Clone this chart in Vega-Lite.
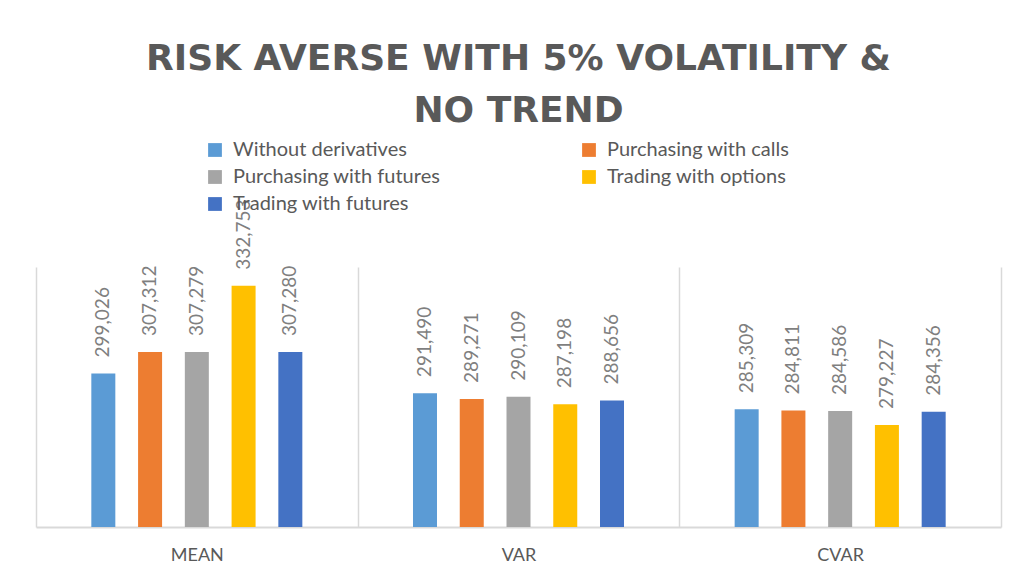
{
  "$schema": "https://vega.github.io/schema/vega-lite/v6.json",
  "width": 965,
  "height": 260,
  "autosize": {"type": "none"},
  "padding": {"left": 36, "top": 267, "right": 15, "bottom": 55},
  "background": "white",
  "title": {
    "text": ["RISK AVERSE WITH 5% VOLATILITY &", "NO TREND"],
    "font": "DejaVu Sans",
    "fontSize": 36,
    "fontWeight": "bold",
    "color": "#595959",
    "lineHeight": 52,
    "anchor": "middle",
    "frame": "group",
    "offset": 10
  },
  "data": {
    "values": [
      {"measure": "MEAN", "strategy": "Without derivatives", "value": 299026},
      {"measure": "MEAN", "strategy": "Purchasing with calls", "value": 307312},
      {"measure": "MEAN", "strategy": "Purchasing with futures", "value": 307279},
      {"measure": "MEAN", "strategy": "Trading with options", "value": 332753},
      {"measure": "MEAN", "strategy": "Trading with futures", "value": 307280},
      {"measure": "VAR", "strategy": "Without derivatives", "value": 291490},
      {"measure": "VAR", "strategy": "Purchasing with calls", "value": 289271},
      {"measure": "VAR", "strategy": "Purchasing with futures", "value": 290109},
      {"measure": "VAR", "strategy": "Trading with options", "value": 287198},
      {"measure": "VAR", "strategy": "Trading with futures", "value": 288656},
      {"measure": "CVAR", "strategy": "Without derivatives", "value": 285309},
      {"measure": "CVAR", "strategy": "Purchasing with calls", "value": 284811},
      {"measure": "CVAR", "strategy": "Purchasing with futures", "value": 284586},
      {"measure": "CVAR", "strategy": "Trading with options", "value": 279227},
      {"measure": "CVAR", "strategy": "Trading with futures", "value": 284356}
    ]
  },
  "encoding": {
    "x": {
      "field": "measure",
      "type": "nominal",
      "sort": ["MEAN", "VAR", "CVAR"],
      "scale": {"paddingInner": 0, "paddingOuter": 0},
      "axis": {
        "title": null,
        "labelAngle": 0,
        "labelFont": "Lato",
        "labelFontSize": 18,
        "labelColor": "#595959",
        "labelPadding": 19,
        "ticks": false,
        "tickBand": "extent",
        "grid": true,
        "gridColor": "#d9d9d9",
        "gridWidth": 1.5,
        "domainColor": "#d9d9d9",
        "domainWidth": 2
      }
    },
    "xOffset": {
      "field": "strategy",
      "type": "nominal",
      "sort": ["Without derivatives", "Purchasing with calls", "Purchasing with futures", "Trading with options", "Trading with futures"],
      "scale": {"paddingInner": 0.12, "paddingOuter": 1}
    },
    "y": {
      "field": "value",
      "type": "quantitative",
      "scale": {"domain": [240000, 340000], "zero": false, "nice": false},
      "axis": null
    }
  },
  "layer": [
    {
      "mark": {"type": "bar", "clip": false, "width": 24},
      "encoding": {
        "y2": {"datum": 240000},
        "color": {
          "field": "strategy",
          "type": "nominal",
          "scale": {
            "domain": ["Without derivatives", "Purchasing with futures", "Trading with futures", "Purchasing with calls", "Trading with options"],
            "range": ["#5B9BD5", "#A5A5A5", "#4472C4", "#ED7D31", "#FFC000"]
          },
          "legend": {
            "title": null,
            "orient": "none",
            "legendX": 169,
            "legendY": -127,
            "columns": 2,
            "columnPadding": 138,
            "rowPadding": 7,
            "symbolType": "square",
            "symbolSize": 190,
            "symbolStrokeWidth": 0,
            "labelFont": "Lato",
            "labelFontSize": 20,
            "labelColor": "#595959",
            "labelOffset": 8,
            "labelLimit": 400
          }
        }
      }
    },
    {
      "mark": {
        "type": "text",
        "angle": 270,
        "align": "left",
        "baseline": "middle",
        "dx": 16,
        "font": "Lato",
        "fontSize": 19,
        "color": "#7f7f7f"
      },
      "encoding": {
        "text": {"field": "value", "type": "quantitative", "format": ",d"}
      }
    }
  ],
  "config": {"view": {"stroke": null}}
}
